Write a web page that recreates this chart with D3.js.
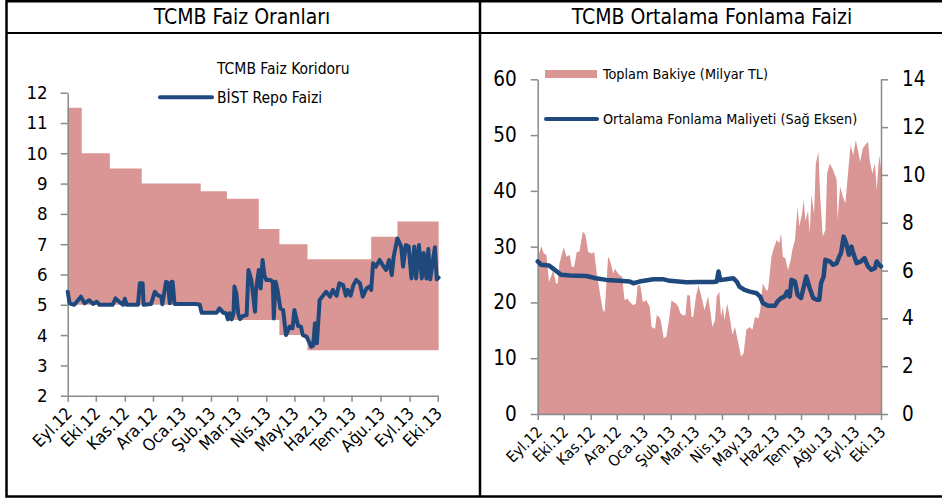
<!DOCTYPE html>
<html>
<head>
<meta charset="utf-8">
<script src="https://cdn.jsdelivr.net/npm/d3@7"></script>
<style>
  body { margin: 0; background: #fff; }
</style>
</head>
<body>
<svg id="chart" width="942" height="500"></svg>
<script>
/****************************************************************
    Data
/****************************************************************/
const monthTicks = ['2012-09-01', '2012-10-01', '2012-11-01', '2012-12-01', '2013-01-01', '2013-02-01', '2013-03-01',
  '2013-04-01', '2013-05-01', '2013-06-01', '2013-07-01', '2013-08-01', '2013-09-01', '2013-10-01']
const monthLabels = ['Eyl.12', 'Eki.12', 'Kas.12', 'Ara.12', 'Oca.13', 'Şub.13', 'Mar.13',
  'Nis.13', 'May.13', 'Haz.13', 'Tem.13', 'Ağu.13', 'Eyl.13', 'Eki.13']

// left chart: TCMB corridor (step changes)
const corridorDates = ['2012-09-01', '2012-09-16', '2012-10-16', '2012-11-19', '2013-01-21', '2013-02-18',
  '2013-03-24', '2013-04-15', '2013-05-15', '2013-07-22', '2013-08-19', '2013-10-02']
const corridorUpper = [11.5, 10, 9.5, 9, 8.75, 8.5, 7.5, 7, 6.5, 7.25, 7.75, 7.75]
const corridorLower = [5, 5, 5, 5, 4.75, 4.5, 4.5, 4, 3.5, 3.5, 3.5, 3.5]

// left chart: BIST repo rate
const repoDates = ['2012-09-01', '2012-09-03', '2012-09-08', '2012-09-12', '2012-09-15', '2012-09-19', '2012-09-24',
  '2012-09-28', '2012-10-02', '2012-10-05', '2012-10-19', '2012-10-22', '2012-10-26', '2012-10-30', '2012-11-01',
  '2012-11-03', '2012-11-15', '2012-11-17', '2012-11-20', '2012-11-21', '2012-11-29', '2012-12-03', '2012-12-06',
  '2012-12-10', '2012-12-11', '2012-12-15', '2012-12-17', '2012-12-19', '2012-12-21', '2012-12-22', '2012-12-24',
  '2013-01-16', '2013-01-20', '2013-01-22', '2013-02-07', '2013-02-10', '2013-02-14', '2013-02-17', '2013-02-19',
  '2013-02-21', '2013-02-23', '2013-02-25', '2013-02-26', '2013-02-28', '2013-03-02', '2013-03-04', '2013-03-07',
  '2013-03-11', '2013-03-13', '2013-03-16', '2013-03-20', '2013-03-21', '2013-03-24', '2013-03-26', '2013-03-28',
  '2013-03-30', '2013-04-01', '2013-04-05', '2013-04-08', '2013-04-09', '2013-04-11', '2013-04-13', '2013-04-16',
  '2013-04-19', '2013-04-22', '2013-04-26', '2013-04-29', '2013-05-01', '2013-05-05', '2013-05-08', '2013-05-10',
  '2013-05-14', '2013-05-19', '2013-05-21', '2013-05-23', '2013-05-25', '2013-05-28', '2013-06-01', '2013-06-04',
  '2013-06-08', '2013-06-11', '2013-06-15', '2013-06-18', '2013-06-22', '2013-06-25', '2013-06-27', '2013-06-30',
  '2013-07-03', '2013-07-06', '2013-07-10', '2013-07-13', '2013-07-17', '2013-07-20', '2013-07-22', '2013-07-24',
  '2013-07-27', '2013-07-31', '2013-08-03', '2013-08-07', '2013-08-10', '2013-08-13', '2013-08-15', '2013-08-19',
  '2013-08-23', '2013-08-25', '2013-08-28', '2013-08-31', '2013-09-03', '2013-09-06', '2013-09-08', '2013-09-11',
  '2013-09-14', '2013-09-16', '2013-09-19', '2013-09-21', '2013-09-23', '2013-09-28', '2013-09-30', '2013-10-02']
const repoValues = [5.43, 5.05, 5.0, 5.15, 5.27, 5.05, 5.15,
  5.03, 5.1, 5.0, 5.0, 5.21, 5.1, 5.0, 5.2,
  5.0, 5.0, 5.71, 5.71, 5.0, 5.03, 5.43, 5.32,
  5.27, 5.02, 5.76, 5.73, 5.05, 5.76, 5.76, 5.03,
  5.03, 5.0, 4.74, 4.74, 4.88, 4.74, 4.72, 4.52,
  4.72, 4.52, 4.72, 5.6, 5.38, 4.72, 4.53, 4.63,
  4.66, 6.15, 5.82, 4.77, 5.49, 6.15, 5.54, 6.48,
  5.98, 5.82, 5.82, 5.76, 4.55, 5.76, 5.49, 4.88,
  4.83, 4.0, 4.28, 4.22, 4.83, 4.3, 4.28, 4.0,
  3.95, 3.62, 3.65, 4.39, 3.73, 5.16, 5.32, 5.43,
  5.27, 5.49, 5.3, 5.71, 5.65, 5.3, 5.49, 5.3,
  5.65, 5.82, 5.71, 5.27, 5.54, 5.6, 5.49, 6.37,
  6.26, 6.48, 6.32, 6.15, 6.48, 5.98, 6.59, 7.19,
  6.92, 6.26, 6.97, 6.92, 5.87, 6.92, 5.87, 6.97,
  5.87, 6.71, 5.87, 6.84, 5.84, 6.9, 5.84, 5.9]

// right chart: total balance (bn TL, left axis)
const balanceDates = ['2012-09-01', '2012-09-03', '2012-09-05', '2012-09-08', '2012-09-11', '2012-09-14', '2012-09-17',
  '2012-09-19', '2012-09-22', '2012-09-24', '2012-09-26', '2012-10-01', '2012-10-04', '2012-10-08', '2012-10-10',
  '2012-10-13', '2012-10-16', '2012-10-19', '2012-10-23', '2012-10-26', '2012-10-29', '2012-11-01', '2012-11-03',
  '2012-11-05', '2012-11-08', '2012-11-12', '2012-11-15', '2012-11-17', '2012-11-21', '2012-11-23', '2012-11-27',
  '2012-11-29', '2012-12-01', '2012-12-04', '2012-12-07', '2012-12-10', '2012-12-13', '2012-12-16', '2012-12-20',
  '2012-12-23', '2012-12-25', '2012-12-28', '2012-12-31', '2013-01-04', '2013-01-08', '2013-01-10', '2013-01-14',
  '2013-01-16', '2013-01-19', '2013-01-21', '2013-01-24', '2013-01-27', '2013-01-30', '2013-02-02', '2013-02-04',
  '2013-02-07', '2013-02-10', '2013-02-12', '2013-02-15', '2013-02-18', '2013-02-20', '2013-02-23', '2013-02-25',
  '2013-02-27', '2013-03-02', '2013-03-05', '2013-03-08', '2013-03-12', '2013-03-16', '2013-03-19', '2013-03-21',
  '2013-03-24', '2013-03-26', '2013-03-29', '2013-03-31', '2013-04-02', '2013-04-04', '2013-04-07', '2013-04-10',
  '2013-04-13', '2013-04-16', '2013-04-19', '2013-04-23', '2013-04-26', '2013-04-29', '2013-05-03', '2013-05-06',
  '2013-05-09', '2013-05-13', '2013-05-15', '2013-05-18', '2013-05-22', '2013-05-24', '2013-05-28', '2013-05-30',
  '2013-06-03', '2013-06-06', '2013-06-08', '2013-06-10', '2013-06-13', '2013-06-16', '2013-06-19', '2013-06-21',
  '2013-06-24', '2013-06-27', '2013-06-29', '2013-07-02', '2013-07-04', '2013-07-06', '2013-07-09', '2013-07-11',
  '2013-07-13', '2013-07-16', '2013-07-18', '2013-07-21', '2013-07-23', '2013-07-26', '2013-07-29', '2013-07-31',
  '2013-08-03', '2013-08-07', '2013-08-11', '2013-08-12', '2013-08-15', '2013-08-18', '2013-08-21', '2013-08-24',
  '2013-08-27', '2013-08-30', '2013-09-02', '2013-09-04', '2013-09-07', '2013-09-10', '2013-09-13', '2013-09-16',
  '2013-09-18', '2013-09-21', '2013-09-24', '2013-09-26', '2013-09-29', '2013-10-01']
const balanceValues = [30.3, 28.8, 30.1, 28.8, 28.5, 23.7, 24.9,
  25.8, 23.4, 23.4, 27.0, 29.9, 28.2, 28.5, 26.4,
  26.4, 29.1, 29.1, 32.7, 32.1, 29.1, 28.8, 28.8,
  29.1, 25.2, 21.3, 18.6, 18.3, 28.2, 27.6, 25.2,
  26.1, 25.5, 24.9, 24.6, 20.4, 20.7, 20.1, 19.5,
  19.8, 23.1, 23.1, 20.1, 20.4, 19.2, 15.6, 15.3,
  17.7, 17.4, 16.5, 13.6, 13.9, 16.8, 20.4, 20.1,
  19.8, 19.2, 18.1, 17.7, 17.7, 21.3, 21.3, 17.4,
  17.4, 21.0, 23.1, 21.3, 18.6, 21.1, 18.0, 15.6,
  16.8, 21.1, 21.9, 17.4, 19.2, 16.8, 19.8, 17.4,
  14.2, 15.6, 13.3, 10.3, 10.9, 15.1, 15.6, 15.1,
  17.4, 17.1, 18.6, 23.4, 22.2, 22.2, 28.2, 29.4,
  31.2, 30.6, 32.4, 28.2, 27.9, 25.8, 27.6, 29.4,
  31.2, 37.2, 33.6, 35.8, 38.4, 34.6, 36.4, 32.4,
  39.3, 35.8, 44.9, 47.0, 39.0, 31.8, 33.0, 43.1,
  44.9, 43.7, 42.0, 34.8, 40.8, 39.0, 37.8, 43.1,
  48.2, 46.4, 49.1, 47.6, 45.2, 47.6, 48.2, 48.8,
  45.5, 43.1, 44.9, 40.2, 46.4, 44.0]

// right chart: average funding cost (%, right axis)
const costDates = ['2012-09-01', '2012-09-05', '2012-09-14', '2012-09-18', '2012-09-23', '2012-09-28', '2012-10-08',
  '2012-10-27', '2012-11-07', '2012-11-19', '2012-12-04', '2012-12-16', '2012-12-20', '2012-12-27', '2013-01-12',
  '2013-01-23', '2013-01-31', '2013-02-19', '2013-03-06', '2013-03-22', '2013-03-26', '2013-03-28', '2013-03-30',
  '2013-04-06', '2013-04-14', '2013-04-18', '2013-04-21', '2013-04-27', '2013-05-03', '2013-05-11', '2013-05-15',
  '2013-05-18', '2013-05-24', '2013-06-01', '2013-06-04', '2013-06-08', '2013-06-12', '2013-06-15', '2013-06-18',
  '2013-06-20', '2013-06-24', '2013-06-27', '2013-07-01', '2013-07-07', '2013-07-11', '2013-07-15', '2013-07-19',
  '2013-07-22', '2013-07-24', '2013-07-27', '2013-07-29', '2013-08-03', '2013-08-07', '2013-08-11', '2013-08-14',
  '2013-08-16', '2013-08-19', '2013-08-22', '2013-08-25', '2013-08-28', '2013-08-30', '2013-09-03', '2013-09-08',
  '2013-09-12', '2013-09-16', '2013-09-20', '2013-09-24', '2013-09-26', '2013-09-29', '2013-10-01']
const costValues = [6.38, 6.24, 6.21, 6.1, 5.96, 5.82, 5.79,
  5.77, 5.68, 5.61, 5.57, 5.54, 5.47, 5.54, 5.64,
  5.64, 5.57, 5.51, 5.52, 5.52, 5.54, 5.96, 5.6,
  5.64, 5.68, 5.54, 5.33, 5.19, 5.12, 5.05, 4.91,
  4.64, 4.53, 4.53, 4.71, 4.85, 4.91, 5.12, 4.91,
  5.61, 5.54, 4.98, 4.85, 5.75, 5.26, 4.85, 4.78,
  4.78, 5.47, 5.75, 6.45, 6.38, 6.24, 6.31, 6.59,
  6.73, 7.42, 7.14, 6.66, 7.0, 6.73, 6.31, 6.38,
  6.52, 6.17, 6.03, 6.1, 6.38, 6.24, 6.17]

const leftTicks = [2, 3, 4, 5, 6, 7, 8, 9, 10, 11, 12]
const rightLeftTicks = [0, 10, 20, 30, 40, 50, 60]
const rightRightTicks = [0, 2, 4, 6, 8, 10, 12, 14]

/****************************************************************
    Settings
/****************************************************************/
const settings = {
  font: "'DejaVu Sans Condensed', 'DejaVu Sans', sans-serif",
  pink: '#d99694',
  blue: '#1f497d',
  axisColor: '#8a8a8a',
  frameColor: '#000'
}

const parse = d3.utcParse('%Y-%m-%d')
const svg = d3.select('#chart')

function styleAxis(g, size) {
  g.attr('font-family', settings.font).attr('font-size', size)
  g.selectAll('path, line').attr('stroke', settings.axisColor).attr('stroke-width', 1.5)
  g.selectAll('text').attr('fill', '#000')
}

function rotateLabels(g, dx, dy) {
  g.selectAll('.tick text')
    .attr('x', 0).attr('y', 0).attr('dy', 0)
    .attr('text-anchor', 'end')
    .attr('transform', `translate(${dx},${dy}) rotate(-45)`)
}

/****************************************************************
    Frame and titles
/****************************************************************/
const frame = svg.append('g').attr('stroke', settings.frameColor).attr('fill', 'none')
frame.append('path').attr('stroke-width', 2.5).attr('d', 'M942,1.25H6.5V496.5H942')
frame.append('line').attr('x1', 6.5).attr('x2', 942).attr('y1', 33).attr('y2', 33).attr('stroke-width', 2)
frame.append('line').attr('x1', 480).attr('x2', 480).attr('y1', 1).attr('y2', 497).attr('stroke-width', 2.5)

svg.append('text').text('TCMB Faiz Oranları').attr('x', 242).attr('y', 24)
  .attr('text-anchor', 'middle').attr('font-family', settings.font).attr('font-size', 21)
svg.append('text').text('TCMB Ortalama Fonlama Faizi').attr('x', 712).attr('y', 24)
  .attr('text-anchor', 'middle').attr('font-family', settings.font).attr('font-size', 21)

/****************************************************************
    Left chart: corridor + repo
/****************************************************************/
const xL = d3.scaleUtc().domain([parse(monthTicks[0]), parse(monthTicks[13])]).range([67.7, 437.7])
const yL = d3.scaleLinear().domain([2, 12]).range([395.7, 92.7])

const corridor = corridorDates.map((d, i) => ({ date: parse(d), lo: corridorLower[i], hi: corridorUpper[i] }))
svg.append('path').datum(corridor)
  .attr('fill', settings.pink)
  .attr('d', d3.area().curve(d3.curveStepAfter).x(d => xL(d.date)).y0(d => yL(d.lo)).y1(d => yL(d.hi)))

const repo = repoDates.map((d, i) => ({ date: parse(d), v: repoValues[i] }))

const gxL = svg.append('g').attr('transform', 'translate(0,395.7)')
  .call(d3.axisBottom(xL).tickValues(monthTicks.map(parse)).tickFormat((d, i) => monthLabels[i])
    .tickSize(6).tickSizeOuter(0))
styleAxis(gxL, 17)
rotateLabels(gxL, 5, 19)

const gyL = svg.append('g').attr('transform', 'translate(67.7,0)')
  .call(d3.axisLeft(yL).tickValues(leftTicks).tickSize(7).tickSizeOuter(0).tickPadding(13))
styleAxis(gyL, 18.5)

svg.append('path').datum(repo)
  .attr('fill', 'none').attr('stroke', settings.blue).attr('stroke-width', 4)
  .attr('stroke-linejoin', 'round').attr('stroke-linecap', 'round')
  .attr('d', d3.line().x(d => xL(d.date)).y(d => yL(d.v)))

// legend
const legL = svg.append('g').attr('font-family', settings.font).attr('font-size', 15.5)
legL.append('text').text('TCMB Faiz Koridoru').attr('x', 217).attr('y', 69).attr('dy', '0.35em')
legL.append('line').attr('x1', 160).attr('x2', 212).attr('y1', 97.3).attr('y2', 97.3)
  .attr('stroke', settings.blue).attr('stroke-width', 4).attr('stroke-linecap', 'round')
legL.append('text').text('BİST Repo Faizi').attr('x', 217).attr('y', 97.3).attr('dy', '0.35em')

/****************************************************************
    Right chart: balance area + funding cost
/****************************************************************/
const xR = d3.scaleUtc().domain([parse(monthTicks[0]), parse(monthTicks[13])]).range([537.7, 881])
const yR = d3.scaleLinear().domain([0, 60]).range([414, 79.3])
const yR2 = d3.scaleLinear().domain([0, 14]).range([414, 79.3])

const balance = balanceDates.map((d, i) => ({ date: parse(d), v: balanceValues[i] }))
const cost = costDates.map((d, i) => ({ date: parse(d), v: costValues[i] }))

svg.append('path').datum(balance)
  .attr('fill', settings.pink)
  .attr('d', d3.area().x(d => xR(d.date)).y0(yR(0)).y1(d => yR(d.v)))

const gxR = svg.append('g').attr('transform', 'translate(0,414)')
  .call(d3.axisBottom(xR).tickValues(monthTicks.map(parse)).tickFormat((d, i) => monthLabels[i])
    .tickSize(6).tickSizeOuter(0))
styleAxis(gxR, 15.5)
rotateLabels(gxR, 5, 19)

const gyR = svg.append('g').attr('transform', 'translate(537.7,0)')
  .call(d3.axisLeft(yR).tickValues(rightLeftTicks).tickSize(7).tickSizeOuter(0).tickPadding(14))
styleAxis(gyR, 20.5)

const gyR2 = svg.append('g').attr('transform', 'translate(881,0)')
  .call(d3.axisRight(yR2).tickValues(rightRightTicks).tickSize(7).tickSizeOuter(0).tickPadding(14))
styleAxis(gyR2, 20.5)

svg.append('path').datum(cost)
  .attr('fill', 'none').attr('stroke', settings.blue).attr('stroke-width', 4.5)
  .attr('stroke-linejoin', 'round').attr('stroke-linecap', 'round')
  .attr('d', d3.line().x(d => xR(d.date)).y(d => yR2(d.v)))

// legend
const legR = svg.append('g').attr('font-family', settings.font).attr('font-size', 14.3)
legR.append('rect').attr('x', 545).attr('y', 70).attr('width', 52).attr('height', 8).attr('fill', settings.pink)
legR.append('text').text('Toplam Bakiye (Milyar TL)').attr('x', 603).attr('y', 74).attr('dy', '0.35em')
legR.append('line').attr('x1', 546).attr('x2', 597).attr('y1', 119).attr('y2', 119)
  .attr('stroke', settings.blue).attr('stroke-width', 4).attr('stroke-linecap', 'round')
legR.append('text').text('Ortalama Fonlama Maliyeti (Sağ Eksen)').attr('x', 603).attr('y', 119).attr('dy', '0.35em')
</script>
</body>
</html>
